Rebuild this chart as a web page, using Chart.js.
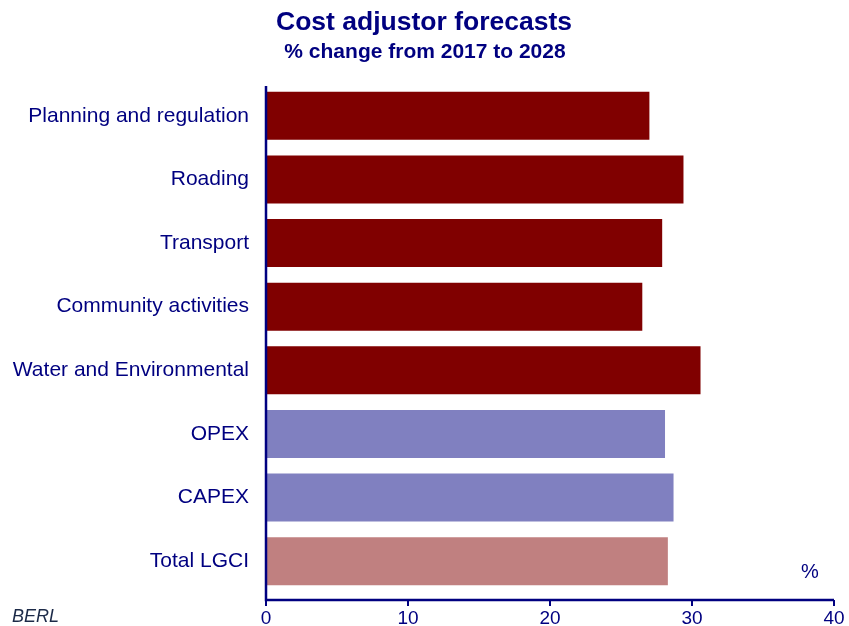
<!DOCTYPE html>
<html><head><meta charset="utf-8">
<script src="https://cdn.jsdelivr.net/npm/chart.js@4/dist/chart.umd.min.js"></script>
<style>html,body{margin:0;padding:0;background:#fff}#wrap{width:849px;height:626px}</style>
</head><body><div id="wrap"><canvas id="c" width="849" height="626"></canvas></div>
<script>
const categories = ["Planning and regulation","Roading","Transport","Community activities","Water and Environmental","OPEX","CAPEX","Total LGCI"];
const values = [27.0, 29.4, 27.9, 26.5, 30.6, 28.1, 28.7, 28.3];
const barColors = ["#800000","#800000","#800000","#800000","#800000","#8080C0","#8080C0","#C08080"];
const xTicks = [0,10,20,30,40];
const titleText = "Cost adjustor forecasts";
const subtitleText = "% change from 2017 to 2028";
const NAVY = "#000080";
const FONT = "'Liberation Sans', Arial, sans-serif";

const overlay = {
  id: 'overlay',
  afterDraw(chart) {
    const ctx = chart.ctx, ca = chart.chartArea, xs = chart.scales.x;
    const axisY = ca.bottom + 7;
    ctx.save();
    ctx.strokeStyle = NAVY; ctx.lineWidth = 2.5;
    ctx.beginPath(); ctx.moveTo(ca.left, ca.top + 2); ctx.lineTo(ca.left, axisY); ctx.lineTo(ca.right, axisY); ctx.stroke();
    ctx.lineWidth = 2;
    xTicks.forEach(v => { const px = xs.getPixelForValue(v); ctx.beginPath(); ctx.moveTo(px, axisY); ctx.lineTo(px, axisY + 6); ctx.stroke(); });
    ctx.fillStyle = NAVY; ctx.textAlign = 'center'; ctx.textBaseline = 'middle';
    ctx.font = "bold 26.5px " + FONT; ctx.fillText(titleText, 424, 23);
    ctx.font = "bold 21px " + FONT; ctx.fillText(subtitleText, 425, 52);
    ctx.font = "20px " + FONT; ctx.fillText("%", 810, 572);
    ctx.textAlign = 'left'; ctx.fillStyle = "#1c2a48"; ctx.font = "italic 18px " + FONT; ctx.fillText("BERL", 12, 617);
    ctx.restore();
  }
};

new Chart(document.getElementById('c'), {
  type: 'bar',
  data: { labels: categories, datasets: [{ data: values, backgroundColor: barColors, borderWidth: 0, barPercentage: 0.755, categoryPercentage: 1 }] },
  options: {
    indexAxis: 'y', responsive: false, animation: false,
    layout: { padding: { top: 84, right: 15, left: 0, bottom: 0 } },
    plugins: { legend: { display: false }, tooltip: { enabled: false } },
    scales: {
      x: { type: 'linear', min: 0, max: 40, afterBuildTicks(s){ s.ticks = xTicks.map(v=>({value:v})); },
           grid: { display: false, drawTicks: false }, border: { display: false },
           ticks: { color: NAVY, font: { size: 19, family: FONT }, padding: 14, maxRotation: 0 },
           afterFit(s){ s.height = 33; s.paddingRight = 0; s.paddingLeft = 0; } },
      y: { grid: { display: false, drawTicks: false }, border: { display: false },
           ticks: { color: NAVY, font: { size: 21, family: FONT }, padding: 17 },
           afterFit(s){ s.width = 266; s.paddingTop = 0; s.paddingBottom = 0; } }
    }
  },
  plugins: [overlay]
});
</script></body></html>
